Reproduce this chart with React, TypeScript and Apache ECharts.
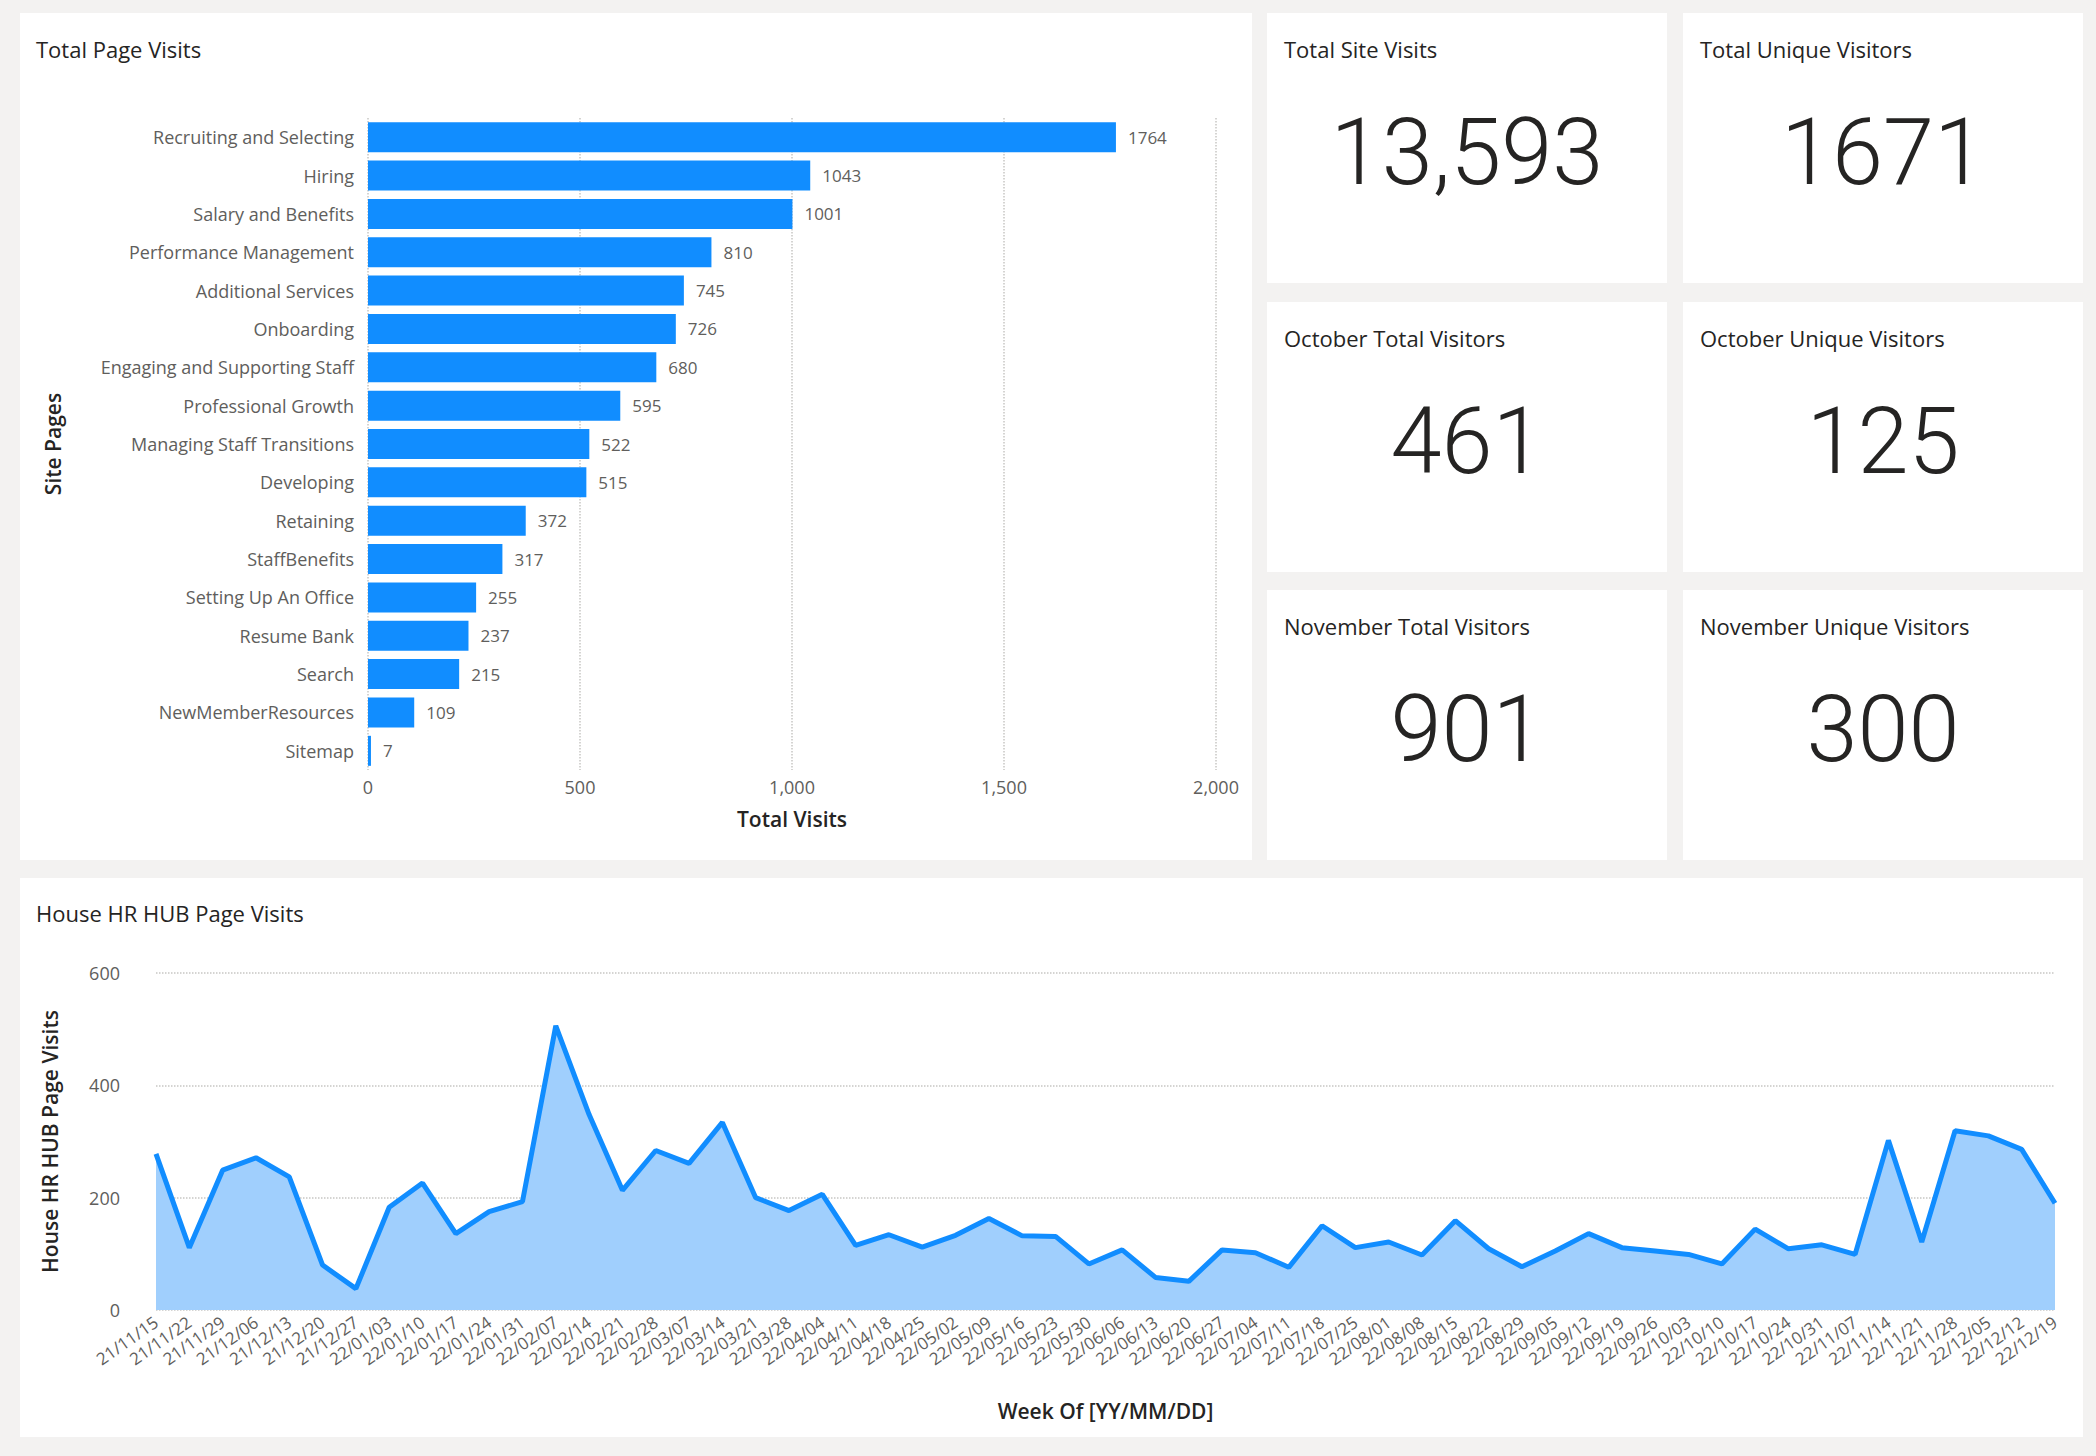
import React, { useEffect, useRef } from "react";
import * as echarts from "echarts";

const pages = ["Recruiting and Selecting","Hiring","Salary and Benefits","Performance Management","Additional Services","Onboarding","Engaging and Supporting Staff","Professional Growth","Managing Staff Transitions","Developing","Retaining","StaffBenefits","Setting Up An Office","Resume Bank","Search","NewMemberResources","Sitemap"];
const pageVisits = [1764,1043,1001,810,745,726,680,595,522,515,372,317,255,237,215,109,7];

const weeks = ["21/11/15","21/11/22","21/11/29","21/12/06","21/12/13","21/12/20","21/12/27","22/01/03","22/01/10","22/01/17","22/01/24","22/01/31","22/02/07","22/02/14","22/02/21","22/02/28","22/03/07","22/03/14","22/03/21","22/03/28","22/04/04","22/04/11","22/04/18","22/04/25","22/05/02","22/05/09","22/05/16","22/05/23","22/05/30","22/06/06","22/06/13","22/06/20","22/06/27","22/07/04","22/07/11","22/07/18","22/07/25","22/08/01","22/08/08","22/08/15","22/08/22","22/08/29","22/09/05","22/09/12","22/09/19","22/09/26","22/10/03","22/10/10","22/10/17","22/10/24","22/10/31","22/11/07","22/11/14","22/11/21","22/11/28","22/12/05","22/12/12","22/12/19"];
const weekVisits = [278,111,249,271,237,80,38,183,226,136,175,193,506,348,213,284,261,334,200,177,206,115,134,112,133,163,132,131,82,107,58,51,107,102,76,150,111,121,98,159,109,77,105,136,111,105,99,82,144,109,116,99,302,121,319,310,286,190];
const labelled = [1,1,0,1,0,0,1,1,1,1,0,1,1,1,1,0,1,1,0,1,0,1,0,1,0,1,0,1,0,1,0,1,1,0,1,1,0,0,1,1,0,1,0,1,0,1,0,1,1,0,0,1,1,1,1,0,1,1];

const kpis = [
  { title: "Total Site Visits", value: "13,593" },
  { title: "Total Unique Visitors", value: "1671" },
  { title: "October Total Visitors", value: "461" },
  { title: "October Unique Visitors", value: "125" },
  { title: "November Total Visitors", value: "901" },
  { title: "November Unique Visitors", value: "300" },
];

const FONT = "'Segoe UI', 'Open Sans', 'Noto Sans', sans-serif";
const BLUE = "#118DFF";

export default function App() {
  const ref = useRef<HTMLDivElement>(null);
  useEffect(() => {
    document.body.style.margin = "0";
    const chart = echarts.init(ref.current!, null, { renderer: "svg" });
    const graphics: any[] = [];
    const panel = (x: number, y: number, w: number, h: number) =>
      graphics.push({ type: "rect", z: -10, shape: { x, y, width: w, height: h }, style: { fill: "#fff" } });
    panel(20, 13, 1232, 847);
    panel(20, 878, 2063, 559);
    const cx = [1267, 1683], cy = [13, 302, 590];
    kpis.forEach((k, i) => {
      const x = cx[i % 2], y = cy[Math.floor(i / 2)];
      panel(x, y, 400, 270);
      graphics.push({ type: "text", x: x + 17, y: y + 25, style: { text: k.title, fontSize: 22, fill: "#252423", fontFamily: FONT } });
      graphics.push({ type: "text", x: x + 200, y: y + 185, style: { text: k.value, fontSize: 92, fontWeight: 300, fill: "#252423", fontFamily: "Roboto", textAlign: "center", textVerticalAlign: "bottom" } });
    });
    graphics.push({ type: "text", x: 36, y: 38, style: { text: "Total Page Visits", fontSize: 22, fill: "#252423", fontFamily: FONT } });
    graphics.push({ type: "text", x: 36, y: 902, style: { text: "House HR HUB Page Visits", fontSize: 22, fill: "#252423", fontFamily: FONT } });

    chart.setOption({
      animation: false,
      backgroundColor: "#f3f2f1",
      textStyle: { fontFamily: FONT },
      graphic: graphics,
      grid: [
        { left: 368, top: 118, width: 848, height: 652 },
        { left: 156, top: 973, right: 41, height: 337 },
      ],
      xAxis: [
        { gridIndex: 0, type: "value", min: 0, max: 2000, interval: 500,
          name: "Total Visits", nameLocation: "middle", nameGap: 38,
          nameTextStyle: { fontSize: 21, color: "#252423", fontWeight: 600 },
          axisLabel: { fontSize: 18, color: "#605E5C" },
          splitLine: { lineStyle: { type: "dotted", color: "#c8c6c4", width: 1.5 } } },
        { gridIndex: 1, type: "category", data: weeks, boundaryGap: false,
          name: "Week Of [YY/MM/DD]", nameLocation: "middle", nameGap: 90,
          nameTextStyle: { fontSize: 21, color: "#252423", fontWeight: 600 },
          axisLine: { show: false }, axisTick: { show: false },
          axisLabel: { interval: 0, rotate: 35, fontSize: 17, color: "#605E5C", margin: 10 } },
      ],
      yAxis: [
        { gridIndex: 0, type: "category", data: pages, inverse: true,
          name: "Site Pages", nameLocation: "middle", nameGap: 305, nameRotate: 90,
          nameTextStyle: { fontSize: 21, color: "#252423", fontWeight: 600 },
          axisLine: { show: false }, axisTick: { show: false },
          axisLabel: { fontSize: 18, color: "#605E5C", margin: 14 } },
        { gridIndex: 1, type: "value", min: 0, max: 600, interval: 200,
          name: "House HR HUB Page Visits", nameLocation: "middle", nameGap: 96, nameRotate: 90,
          nameTextStyle: { fontSize: 21, color: "#252423", fontWeight: 600 },
          axisLabel: { fontSize: 18, color: "#605E5C", margin: 36 },
          splitLine: { lineStyle: { type: "dotted", color: "#c8c6c4", width: 1.5 } } },
      ],
      series: [
        { type: "bar", xAxisIndex: 0, yAxisIndex: 0, data: pageVisits, barWidth: 30,
          itemStyle: { color: BLUE },
          label: { show: true, position: "right", fontSize: 17, color: "#605E5C", distance: 12 } },
        { type: "line", xAxisIndex: 1, yAxisIndex: 1, showSymbol: false, symbol: "none",
          data: weekVisits.map((v, i) => ({ value: v, label: { show: !!labelled[i] } })),
          lineStyle: { color: BLUE, width: 5 },
          areaStyle: { color: "#a0cffd", opacity: 1 },
          label: { position: "top", fontSize: 24, color: "#605E5C", distance: 10 } },
      ],
    });
    return () => chart.dispose();
  }, []);
  return <div ref={ref} style={{ width: 2096, height: 1456 }} />;
}
